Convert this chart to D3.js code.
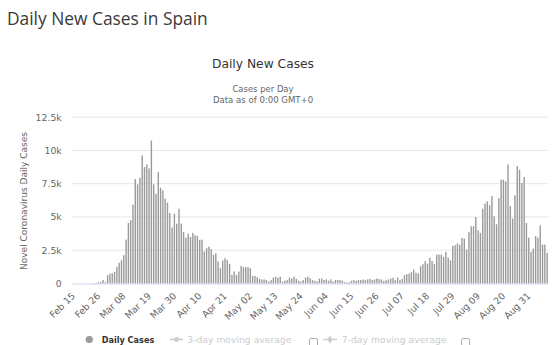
<!DOCTYPE html>
<html><head><meta charset="utf-8">
<script src="https://cdn.jsdelivr.net/npm/d3@7"></script>
<style>html,body{margin:0;padding:0;background:#fff;} svg{display:block}</style>
</head><body>
<svg id="chart" width="559" height="345"></svg>
<script>
// ---------- data ----------
const pageTitle = "Daily New Cases in Spain";
const chartTitle = "Daily New Cases";
const subtitleLines = ["Cases per Day", "Data as of 0:00 GMT+0"];
const yAxisTitle = "Novel Coronavirus Daily Cases";
const startDate = "2020-02-15";
const endDate = "2020-09-08";
const tickLabels = ["Feb 15","Feb 26","Mar 08","Mar 19","Mar 30","Apr 10","Apr 21","May 02","May 13","May 24","Jun 04","Jun 15","Jun 26","Jul 07","Jul 18","Jul 29","Aug 09","Aug 20","Aug 31"];
const yTickValues = [0, 2500, 5000, 7500, 10000, 12500];
const yTickLabels = ["0", "2.5k", "5k", "7.5k", "10k", "12.5k"];
const legendLabels = ["Daily Cases", "3-day moving average", "7-day moving average"];
const dailyCases = [
  // Feb 15 - Feb 29
  0,0,0,0,0,0,0,0,0,20,45,100,120,260,110,
  // Mar
  620,740,760,880,1250,1550,1750,2125,3300,4550,4750,5925,7850,7450,7950,9625,8750,8950,8650,10750,7450,6750,8375,7200,7000,6375,6075,5300,4200,5250,4500,
  // Apr
  5625,4500,3875,3450,3750,3500,3800,3625,3575,3275,3300,2400,2650,2775,2575,2150,2275,1650,1150,1725,1900,1775,1475,650,900,650,900,1325,1225,1225,
  // May
  1225,1150,575,575,475,350,300,310,260,140,260,440,510,440,510,140,210,260,440,360,510,360,210,140,260,440,510,390,260,210,140,
  // Jun
  360,390,260,310,210,310,140,260,260,260,210,90,90,90,210,260,210,260,260,300,260,310,350,260,300,380,330,300,200,250,
  // Jul
  300,375,425,250,450,250,350,625,700,750,850,1050,800,750,1300,1450,1675,1500,1925,1700,1450,2175,2175,2175,2000,2375,1950,1750,2825,2875,3000,
  // Aug
  2925,3425,3375,2550,3875,4300,4300,5000,4000,3800,5625,6000,6175,5875,6575,5050,4450,6425,7800,7800,7675,8950,5825,4875,6625,8825,8550,7550,8000,4550,3450,
  // Sep 1 - 8
  2375,2625,3550,3450,4375,2925,2925,2300
];

// ---------- layout ----------
const parse = d3.timeParse("%Y-%m-%d");
const fmt = d3.timeFormat("%b %d");
const categories = d3.timeDay.range(parse(startDate), d3.timeDay.offset(parse(endDate), 1)).map(fmt);
const data = categories.map((c, i) => ({cat: c, value: dailyCases[i]}));

const svg = d3.select("#chart");
const plotL = 72, plotR = 548.3, plotT = 117.2, plotB = 283.5;
const axisFont = "DejaVu Sans, Verdana, sans-serif";

const x = d3.scaleBand().domain(categories).range([plotL, plotR]).paddingInner(0.4).paddingOuter(0.2);
const y = d3.scaleLinear().domain([0, 12500]).range([plotB, plotT]);

function fitText(sel, targetW) {
  const w = sel.node().getComputedTextLength();
  const fs = parseFloat(sel.attr("font-size"));
  sel.attr("font-size", (fs * targetW / w).toFixed(2));
  return sel;
}

// page title
fitText(svg.append("text").attr("x", 7).attr("y", 24.5)
  .attr("font-family", "Open Sans, sans-serif").attr("font-size", 18)
  .attr("fill", "#3a3a3a").text(pageTitle), 201);

// chart title and subtitle
fitText(svg.append("text").attr("x", 263).attr("y", 68.3).attr("text-anchor", "middle")
  .attr("font-family", axisFont).attr("font-size", 12.3).attr("fill", "#333").text(chartTitle), 102);
fitText(svg.append("text").attr("x", 263).attr("y", 91.5).attr("text-anchor", "middle")
  .attr("font-family", axisFont).attr("font-size", 8.4).attr("fill", "#666").text(subtitleLines[0]), 61);
fitText(svg.append("text").attr("x", 263).attr("y", 103.3).attr("text-anchor", "middle")
  .attr("font-family", axisFont).attr("font-size", 8.4).attr("fill", "#666").text(subtitleLines[1]), 100);

// gridlines
svg.append("g").selectAll("line").data(yTickValues.slice(1)).join("line")
  .attr("x1", plotL).attr("x2", plotR)
  .attr("y1", d => y(d)).attr("y2", d => y(d))
  .attr("stroke", "#e6e6e6").attr("stroke-width", 1);

// y axis
const yAxis = svg.append("g").attr("transform", `translate(${plotL},0)`)
  .call(d3.axisLeft(y).tickValues(yTickValues).tickFormat((d, i) => yTickLabels[i]).tickSize(0).tickPadding(10.3));
yAxis.select(".domain").remove();
yAxis.selectAll("text").attr("font-family", axisFont).attr("font-size", 9.3).attr("fill", "#666");

// y axis title
fitText(svg.append("text").attr("transform", "translate(27.2,201) rotate(-90)")
  .attr("text-anchor", "middle").attr("font-family", axisFont).attr("font-size", 9.2)
  .attr("fill", "#666").text(yAxisTitle), 138);

// bars
svg.append("g").selectAll("rect").data(data).join("rect")
  .attr("x", d => x(d.cat)).attr("width", x.bandwidth())
  .attr("y", d => y(d.value)).attr("height", d => y(0) - y(d.value))
  .attr("fill", "#999");

// x axis
const xAxis = svg.append("g").attr("transform", `translate(0,${plotB})`)
  .call(d3.axisBottom(x).tickValues(tickLabels).tickSize(0));
xAxis.select(".domain").attr("stroke", "#ccd6eb").attr("d", `M${plotL},0.5H${plotR}`);
xAxis.selectAll("text").attr("font-family", axisFont).attr("font-size", 9.3).attr("fill", "#666")
  .attr("x", 0).attr("y", 0).attr("dy", 0).attr("text-anchor", "end")
  .attr("transform", "translate(2.5,13) rotate(-45)");

// legend
const lg = svg.append("g");
const lgY = 339.5, lgBase = 342.6;
lg.append("circle").attr("cx", 89.3).attr("cy", lgY).attr("r", 3.6).attr("fill", "#999");
fitText(lg.append("text").attr("x", 101.7).attr("y", lgBase).attr("font-family", axisFont)
  .attr("font-weight", "bold").attr("font-size", 8.2).attr("fill", "#333").text(legendLabels[0]), 52.6);

lg.append("line").attr("x1", 170).attr("x2", 183).attr("y1", lgY).attr("y2", lgY)
  .attr("stroke", "#ccc").attr("stroke-width", 1.5);
lg.append("circle").attr("cx", 176.5).attr("cy", lgY).attr("r", 2.4).attr("fill", "#ccc");
fitText(lg.append("text").attr("x", 187.3).attr("y", lgBase).attr("font-family", axisFont)
  .attr("font-size", 9.2).attr("fill", "#ccc").text(legendLabels[1]), 104);
lg.append("rect").attr("x", 309.5).attr("y", 338.5).attr("width", 8).attr("height", 9).attr("rx", 1.5)
  .attr("fill", "#fff").attr("stroke", "#aaa").attr("stroke-width", 1);

lg.append("line").attr("x1", 323).attr("x2", 337).attr("y1", lgY).attr("y2", lgY)
  .attr("stroke", "#ccc").attr("stroke-width", 1.5);
lg.append("path").attr("d", d3.symbol(d3.symbolDiamond, 22)()).attr("transform", `translate(330,${lgY})`).attr("fill", "#ccc");
fitText(lg.append("text").attr("x", 341.7).attr("y", lgBase).attr("font-family", axisFont)
  .attr("font-size", 9.2).attr("fill", "#ccc").text(legendLabels[2]), 105);
lg.append("rect").attr("x", 461.7).attr("y", 338.5).attr("width", 8).attr("height", 9).attr("rx", 1.5)
  .attr("fill", "#fff").attr("stroke", "#aaa").attr("stroke-width", 1);
</script>
</body></html>
